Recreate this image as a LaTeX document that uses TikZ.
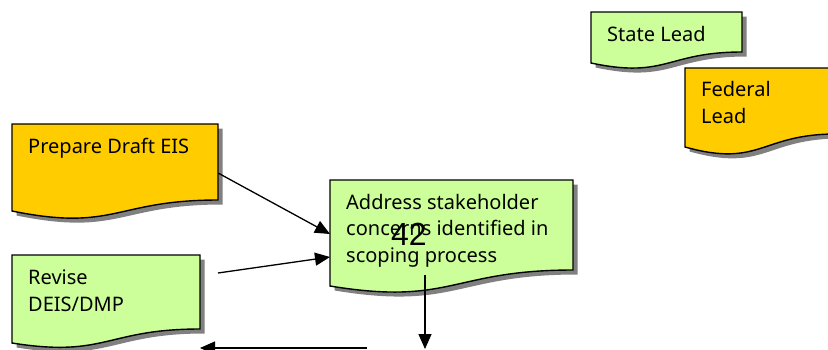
\documentclass[tikz,border=0pt]{standalone}
\usepackage{fontspec}
\setmainfont{Noto Sans}
\newfontfamily\numfont{Liberation Sans}
\usetikzlibrary{arrows.meta}
\definecolor{docyellow}{HTML}{FFCC00}
\definecolor{docgreen}{HTML}{CCFF99}
\definecolor{shadowgray}{HTML}{808080}
\tikzset{
  docline/.style={draw=black, line width=1.4pt},
  doctext/.style={anchor=base west, align=left, inner sep=0pt, font=\fontsize{20}{26.5}\selectfont},
  flow/.style={draw=black, line width=1.3pt, -{Triangle[length=15pt, width=13pt]}},
}
% #1 name, #2 fill, #3 x1, #4 top, #5 x2, #6 left bottom y, #7 right bottom y, #8 dip offset
\newcommand\docbox[8]{%
  \fill[shadowgray, shift={(4.5,4.5)}] (#3,#4) -- (#5,#4) -- (#5,#7)
     .. controls ({(#3+#5)/2},#7) and ({(#3+#5)/2},{#6+#8}) .. (#3,#6) -- cycle;
  \filldraw[fill=#2, docline] (#3,#4) -- (#5,#4) -- (#5,#7)
     .. controls ({(#3+#5)/2},#7) and ({(#3+#5)/2},{#6+#8}) .. (#3,#6) -- cycle;
  \node[inner sep=0pt, anchor=north west, minimum width={(#5-#3)*1pt}, minimum height={(#6-#4)*1pt}] (#1) at (#3,#4) {};
}
\begin{document}
\begin{tikzpicture}[x=1pt, y=-1pt]
\useasboundingbox (0,0) rectangle (828,349);
\clip (0,0) rectangle (828,349);
\docbox{state}{docgreen}{591}{12}{742}{63}{52}{16}
\docbox{federal}{docyellow}{685}{68}{836}{147}{134}{21}
\docbox{prep}{docyellow}{12}{124}{218}{211}{200}{21}
\docbox{addr}{docgreen}{330}{180}{573}{286}{270}{20}
\docbox{revise}{docgreen}{12}{255}{200}{343}{329}{15}

\node[doctext] (statet) at (607,41) {State Lead};
\node[doctext] (federalt) at (701,123) {Federal\\Lead};
\node[doctext] (prept) at (28,153) {Prepare Draft EIS};
\node[doctext] (addrt) at (346,262) {Address stakeholder\\concerns identified in\\scoping process};
\node[doctext] (reviset) at (28,311) {Revise\\DEIS/DMP};
\node[anchor=base west, inner sep=0pt, font=\numfont\fontsize{32}{36}\selectfont] (num) at (391,245) {42};

\coordinate (e1) at (330,234);
\coordinate (e2) at (330,257);
\coordinate (s2) at (218,273);
\coordinate (s3) at (425,275);
\coordinate (e3) at (425,349);
\coordinate (s4) at (367,348);
\coordinate (e4) at (200,348);
\draw[flow] ([yshift=-5.5pt]prep.east) -- (e1);
\draw[flow] (s2) -- (e2);
\draw[flow] (s3) -- (e3);
\draw[flow] (s4) -- (e4);
\end{tikzpicture}
\end{document}
